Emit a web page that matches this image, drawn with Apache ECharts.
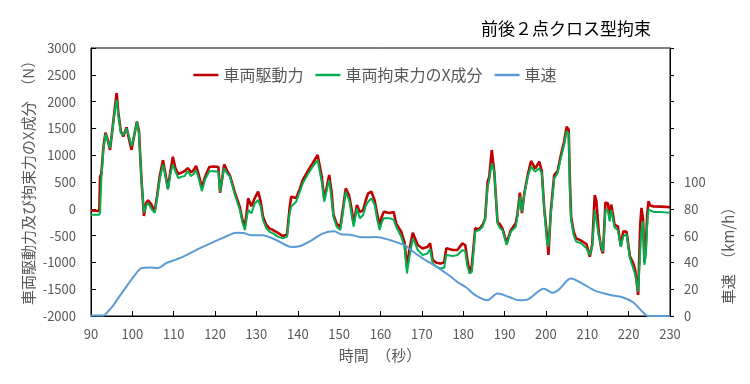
<!DOCTYPE html>
<html>
<head>
<meta charset="utf-8">
<script src="https://cdn.jsdelivr.net/npm/echarts@6/dist/echarts.min.js"></script>
<style>html,body{margin:0;padding:0;background:#fff;}#c{width:750px;height:384px;}</style>
</head>
<body>
<div id="c"></div>
<script>
// time (s) for force series
const tForce = [90,92,92.2,92.5,93,93.5,94,94.6,95.2,95.8,96.2,96.6,97.2,97.8,98.6,99.2,99.8,100.4,101.1,101.6,102.2,102.8,103.3,103.8,104.6,105.4,106,106.6,107.4,108,108.6,109.2,109.8,110.4,111.1,112,112.6,113.4,114.2,114.8,115.4,116,116.8,117.6,118.6,119.6,120.8,121.2,121.6,122.2,123,123.6,124.8,126,126.6,127.2,127.6,128,128.8,129.6,130.4,131,131.6,132.4,133.2,134,135.2,136.4,137.4,138,138.4,139.6,140.4,141.2,142.4,143.6,144.8,145.2,145.8,146.4,147,147.6,148.2,148.6,149.4,150.3,151,151.6,152.4,153,153.5,154.3,155,155.8,156.4,157,157.8,158.6,159.2,159.8,160.3,160.8,162.2,163.2,163.8,165,165.8,166.4,167,167.8,168.4,169,170.2,171.4,172,172.6,173.5,174.5,175.4,175.9,177.5,178.6,179.8,180.5,181,181.6,182.1,182.9,183.9,184.7,185.3,185.9,186.3,186.9,187.5,188.3,188.9,189.5,190.5,191.5,192.7,193.1,193.7,194.2,194.8,195.6,196.4,197.4,198.4,199,199.6,200.2,200.6,201.2,202,202.8,203.6,204.4,205,205.5,205.8,206.1,206.7,207.3,208.5,209.8,210.6,211.2,211.8,212.2,212.8,213.4,213.8,214.4,215,215.4,215.8,216.6,217.4,218.1,218.7,219.5,220.3,221.1,221.6,222.3,222.8,223.1,223.5,223.8,224.1,224.5,224.8,225.2,226,228,230];
// 車両駆動力 (N)
const driveForce = [-30,-40,600,650,1150,1420,1300,1100,1500,1900,2160,1800,1450,1350,1520,1300,1100,1350,1630,1450,550,-135,100,160,80,-50,250,600,905,650,380,700,970,760,650,680,700,760,680,720,800,650,400,600,780,790,780,300,500,830,700,620,300,30,-200,-334,-100,195,50,200,320,150,-150,-300,-370,-396,-450,-508,-480,0,226,200,350,537,700,850,1003,1022,600,180,400,630,300,-100,-280,-340,50,381,250,0,-280,70,-60,-23,150,289,320,150,-100,-303,-150,-54,-80,-60,-280,-427,-620,-1080,-760,-446,-560,-676,-740,-707,-645,-950,-1005,-1020,-1000,-738,-769,-770,-645,-680,-950,-1207,-1050,-365,-380,-300,-180,506,600,1097,700,-250,-290,-370,-640,-400,-270,-110,301,-80,300,630,892,750,880,700,0,-460,-862,-20,630,700,1000,1250,1532,1480,500,-150,-427,-551,-595,-660,-893,-660,257,150,-460,-750,-830,120,100,-180,79,-300,-330,-700,-420,-430,-888,-1013,-1150,-1606,-300,16,-200,-1000,-800,-100,141,60,45,40,30];
// 車両拘束力のX成分 (N)
const constraintForceX = [-110,-110,-60,550,1100,1400,1280,1130,1480,1850,2030,1750,1410,1380,1500,1350,1165,1350,1620,1400,545,-75,50,110,0,-75,200,545,825,600,360,650,825,700,575,600,610,700,610,650,720,580,330,550,700,700,693,319,500,755,650,600,257,-23,-250,-396,-200,-23,-85,100,164,50,-210,-365,-430,-458,-520,-552,-520,-100,40,133,300,475,640,786,910,900,500,133,350,537,150,-147,-334,-396,-23,319,164,-100,-334,8,-178,-116,50,133,195,70,-200,-396,-250,-178,-178,-200,-334,-520,-707,-1205,-894,-552,-650,-769,-862,-831,-750,-1018,-1080,-1113,-1100,-862,-881,-862,-769,-800,-1080,-1204,-1173,-427,-396,-334,-178,413,537,848,693,-271,-365,-396,-676,-427,-334,-147,226,-54,288,599,786,693,755,662,-23,-582,-707,-85,568,662,942,1190,1450,1408,300,-209,-489,-613,-644,-738,-862,-707,-23,-50,-520,-707,-800,-10,-40,-233,-23,-350,-400,-707,-514,-470,-920,-1107,-1232,-1543,-800,-400,-233,-1044,-900,-300,-15,-50,-58,-62,-72];
// time (s) for speed
const tSpeed = [90,93,94,95.4,96.5,98.2,100,101.9,103,104.5,106,106.8,108.3,110,112.4,116.6,118.8,122,125.2,126.8,128.4,131.6,133,134.8,137,138.4,140.4,142.8,146,148.8,150.5,152.6,155.8,159,162.2,164.6,166,167,170.2,173.5,176.7,179,180.6,183,185.8,188.3,191.1,193.5,195.5,199.5,201.6,203.2,206,208.8,212,215.3,218.5,221,223.4,224.6,230];
// 車速 (km/h)
const speed = [0.3,0.3,3,8,13,20.4,28,35.3,36,36.2,35.8,36.5,39.6,41.5,44.5,51,54,58.5,62.2,62,60.5,60.2,59,56.7,53,51.5,52,55.5,61.5,63.2,61,60.7,58.7,59,56.7,54.2,52.7,50,43,36.8,30,24.5,21.6,15.4,11.7,16.7,14.2,11.7,12.2,20.4,17.4,19.9,27.9,24.2,18.7,15.9,14,10.4,3,0,0];
const leftTicks = [-2000,3000,500];
const rightTicks = [0,200,20];

const FONT = "'Noto Sans CJK JP', 'Noto Sans', sans-serif";
const pair = (ts, vs) => ts.map((t, i) => [t, vs[i]]);

const chart = echarts.init(document.getElementById('c'), null, {renderer: 'canvas'});
chart.setOption({
  animation: false,
  backgroundColor: '#fff',
  textStyle: {fontFamily: FONT},
  grid: {left: 91, right: 80, top: 48, bottom: 68, show: true, borderColor: '#000', borderWidth: 1, containLabel: false},
  legend: {
    top: 62, left: 'center',
    icon: 'rect', itemWidth: 25, itemHeight: 2.5, itemGap: 12,
    textStyle: {fontSize: 16, color: '#595959', fontFamily: FONT},
    data: ['車両駆動力', '車両拘束力のX成分', '車速']
  },
  graphic: [
    {type: 'text', left: 481, top: 20, style: {text: '前後２点クロス型拘束', fontSize: 17, fill: '#000', fontFamily: FONT}},
    {type: 'text', x: 28, y: 179, rotation: Math.PI / 2, style: {text: '車両駆動力及び拘束力のX成分　（N）', fontSize: 15, fill: '#595959', fontFamily: FONT, align: 'center', verticalAlign: 'middle'}},
    {type: 'text', x: 728, y: 252, rotation: Math.PI / 2, style: {text: '車速　（km/h）', fontSize: 15, fill: '#595959', fontFamily: FONT, align: 'center', verticalAlign: 'middle'}},
    {type: 'text', x: 380, y: 355, style: {text: '時間　（秒）', fontSize: 15, fill: '#595959', fontFamily: FONT, align: 'center', verticalAlign: 'middle'}}
  ],
  xAxis: {
    type: 'value', min: 90, max: 230, interval: 10,
    axisLine: {show: true, onZero: false, lineStyle: {color: '#000', width: 1}},
    axisTick: {show: true, inside: true, length: 5, lineStyle: {color: '#000'}},
    axisLabel: {fontSize: 13, color: '#595959', margin: 12, fontFamily: FONT, formatter: v => String(v)},
    splitLine: {show: false}
  },
  yAxis: [
    {
      type: 'value', min: leftTicks[0], max: leftTicks[1], interval: leftTicks[2],
      axisLine: {show: true, lineStyle: {color: '#000', width: 1}},
      axisTick: {show: true, inside: true, length: 5, lineStyle: {color: '#000'}},
      axisLabel: {fontSize: 13, color: '#595959', margin: 15, fontFamily: FONT, formatter: v => String(v)},
      splitLine: {show: false}
    },
    {
      type: 'value', min: rightTicks[0], max: rightTicks[1], interval: rightTicks[2], position: 'right',
      axisLine: {show: true, lineStyle: {color: '#000', width: 1}},
      axisTick: {show: true, inside: false, length: 4, lineStyle: {color: '#000'}},
      axisLabel: {fontSize: 13, color: '#595959', margin: 14, fontFamily: FONT, formatter: v => (v <= 100 ? String(v) : '')},
      splitLine: {show: false}
    }
  ],
  series: [
    {name: '車両駆動力', type: 'line', yAxisIndex: 0, data: pair(tForce, driveForce), showSymbol: false, symbol: 'none', lineStyle: {color: '#C00000', width: 2.6}, itemStyle: {color: '#C00000'}},
    {name: '車両拘束力のX成分', type: 'line', yAxisIndex: 0, data: pair(tForce, constraintForceX), showSymbol: false, symbol: 'none', lineStyle: {color: '#00B050', width: 2}, itemStyle: {color: '#00B050'}},
    {name: '車速', type: 'line', yAxisIndex: 1, data: pair(tSpeed, speed), showSymbol: false, symbol: 'none', smooth: 0.3, lineStyle: {color: '#5B9BD5', width: 2}, itemStyle: {color: '#5B9BD5'}}
  ]
});
</script>
</body>
</html>
